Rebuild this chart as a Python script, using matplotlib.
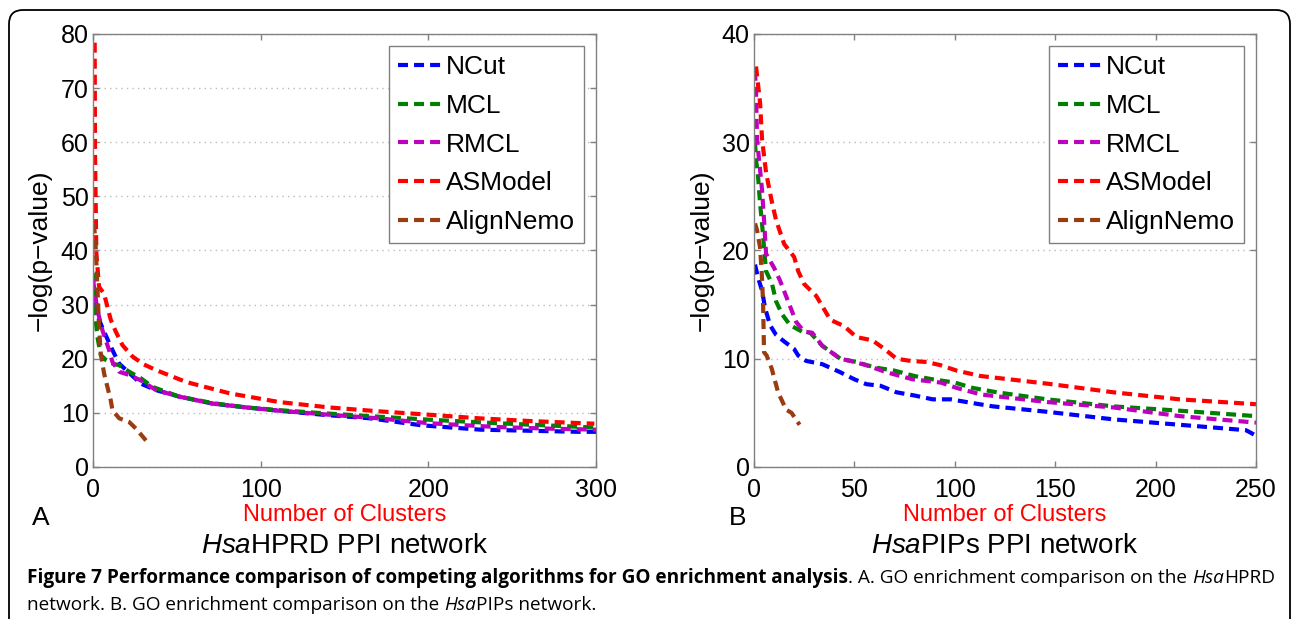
import matplotlib
matplotlib.use("Agg")
import matplotlib.pyplot as plt
import matplotlib.patches as mpatches
import numpy as np

# ---- data ----
methods = ['NCut', 'MCL', 'RMCL', 'ASModel', 'AlignNemo']
colors = ['#0000ff', '#008000', '#bf00bf', '#ff0000', '#9a3b10']

# panel A: HsaHPRD
hprd_ncut_x = [0, 3.6, 6.6, 11.6, 15.6, 28.5, 37.6, 51.5, 71.5, 91.5, 111, 139, 165, 196, 231, 260, 290, 300]
hprd_ncut_y = [33.3, 27.2, 25.0, 21.6, 19.1, 15.4, 14.2, 13.0, 11.7, 11.0, 10.4, 9.6, 9.0, 7.7, 6.9, 6.7, 6.5, 6.5]
hprd_mcl_x = [0, 0.6, 2.6, 4.6, 7.6, 11.6, 15.6, 21.6, 28.5, 35.5, 51.5, 71.5, 91.5, 111, 139, 170, 203, 240, 270, 299]
hprd_mcl_y = [35.8, 30.2, 24.1, 20.7, 19.8, 19.1, 18.8, 17.6, 16.4, 14.8, 13.0, 11.8, 11.0, 10.5, 9.9, 9.3, 8.7, 8.1, 7.7, 7.3]
hprd_rmcl_x = [0, 2.6, 5.6, 9.6, 11.6, 15.6, 21.6, 28.5, 37.6, 51.5, 71.5, 91.5, 111, 139, 170, 200, 240, 270, 300]
hprd_rmcl_y = [34.6, 29.0, 25.3, 21.6, 19.4, 17.6, 17.0, 16.0, 14.2, 13.0, 11.7, 11.0, 10.4, 9.7, 9.0, 8.1, 7.4, 7.1, 6.9]
hprd_asm_x = [1, 1.2, 2, 3.6, 6.6, 10.6, 13.6, 17.6, 23.6, 30, 37.6, 55.6, 81.6, 111, 141, 170, 203, 230, 260, 299]
hprd_asm_y = [78.4, 58, 39.5, 33.3, 32.0, 27.2, 25.0, 22.5, 20.4, 19.0, 17.9, 15.7, 13.6, 12.0, 11.0, 10.3, 9.6, 9.0, 8.5, 8.0]
hprd_nemo_x = [0.6, 1.6, 2.6, 3.6, 4.6, 6.6, 8.6, 10.6, 11.6, 15.6, 21.6, 25.6, 31.6]
hprd_nemo_y = [45.0, 40.7, 33.3, 25.9, 21.0, 17.3, 14.8, 12.3, 10.5, 9.0, 8.3, 7.1, 4.9]

# panel B: HsaPIPs
pips_ncut_x = [0.5, 2, 4, 5.5, 8, 11, 15, 20, 22, 26, 34, 43, 50, 56, 63, 71, 80, 89, 98, 109, 119, 146, 179, 212, 245, 250]
pips_ncut_y = [18.7, 17.5, 16.3, 14.7, 13.1, 12.2, 11.6, 10.9, 10.3, 9.8, 9.5, 8.75, 8.1, 7.65, 7.5, 6.9, 6.6, 6.25, 6.25, 5.9, 5.6, 5.1, 4.4, 3.9, 3.4, 2.9]
pips_mcl_x = [0.5, 1, 2, 3, 4, 5, 6, 9, 11, 14, 18, 24, 28, 34, 43, 51, 60, 70, 80, 89, 100, 109, 121, 146, 179, 212, 250]
pips_mcl_y = [30.0, 28.4, 26.9, 24.4, 22.5, 20.3, 18.1, 16.9, 15.3, 14.1, 13.1, 12.5, 12.4, 11.2, 10.0, 9.7, 9.2, 8.9, 8.4, 8.1, 7.8, 7.3, 6.9, 6.25, 5.6, 5.2, 4.7]
pips_rmcl_x = [0.5, 1, 1.5, 3, 4, 5, 6, 10, 13, 17, 21, 25, 29, 34, 43, 48, 56, 66, 79, 93, 101, 113, 146, 179, 212, 250]
pips_rmcl_y = [36.6, 34.7, 30.3, 27.5, 25.6, 22.8, 19.7, 18.4, 17.2, 15.3, 13.4, 12.5, 12.4, 11.2, 10.0, 9.8, 9.4, 8.75, 8.1, 7.8, 7.3, 6.7, 6.0, 5.5, 4.7, 4.1]
pips_asm_x = [1, 3, 4, 6, 9, 11, 15, 20, 22, 25, 31, 38, 45, 51, 59, 65, 71, 78, 86, 93, 101, 113, 146, 179, 212, 250]
pips_asm_y = [37.0, 33.7, 30.3, 27.2, 24.4, 22.8, 20.6, 19.4, 18.1, 16.9, 15.8, 13.6, 13.0, 12.0, 11.7, 10.9, 10.0, 9.8, 9.7, 9.4, 8.9, 8.4, 7.7, 6.9, 6.25, 5.8]
pips_nemo_x = [0.5, 1.5, 3, 3.8, 4.5, 5, 6.3, 8.8, 12, 16, 18.7, 22.7]
pips_nemo_y = [22.5, 21.9, 20.3, 18.1, 15.3, 10.6, 10.3, 9.1, 6.9, 5.3, 5.0, 3.9]

W, H = 1293, 619
plt.rcParams['font.family'] = ['Liberation Sans', 'DejaVu Sans']
plt.rcParams['mathtext.fontset'] = 'custom'
plt.rcParams['mathtext.it'] = 'Liberation Sans:italic'
plt.rcParams['mathtext.rm'] = 'Liberation Sans'

fig = plt.figure(figsize=(W / 100, H / 100), dpi=100)
fig.patch.set_facecolor('white')


def fx(px):
    return px / W


def fy(py):
    return 1 - py / H


ax1 = fig.add_axes([fx(93), fy(467), 503 / W, 433 / H])
ax2 = fig.add_axes([fx(754), fy(467), 502 / W, 433 / H])

panelA = [(hprd_ncut_x, hprd_ncut_y), (hprd_mcl_x, hprd_mcl_y), (hprd_rmcl_x, hprd_rmcl_y),
          (hprd_asm_x, hprd_asm_y), (hprd_nemo_x, hprd_nemo_y)]
panelB = [(pips_ncut_x, pips_ncut_y), (pips_mcl_x, pips_mcl_y), (pips_rmcl_x, pips_rmcl_y),
          (pips_asm_x, pips_asm_y), (pips_nemo_x, pips_nemo_y)]

gray = '#808080'
for ax, series, xmax, ymax, xstep, ystep in [(ax1, panelA, 300, 80, 100, 10),
                                            (ax2, panelB, 250, 40, 50, 10)]:
    for (xs, ys), name, c in zip(series, methods, colors):
        ax.plot(xs, ys, color=c, lw=3, linestyle=(0, (2.4, 1.45)), label=name)
    ax.set_xlim(0, xmax)
    ax.set_ylim(0, ymax)
    ax.set_xticks(np.arange(0, xmax + 1, xstep))
    ax.set_yticks(np.arange(0, ymax + 1, ystep))
    ax.yaxis.grid(True, linestyle=(0, (1, 3)), color='#bbbbbb', lw=1)
    for s in ax.spines.values():
        s.set_color(gray)
        s.set_linewidth(1)
    ax.tick_params(direction='in', length=4, width=1, color=gray, top=True, right=True,
                   labelsize=18)
    ax.tick_params(axis='x', pad=8)
    ax.tick_params(axis='y', pad=3)
    leg = ax.legend(loc='upper right', fontsize=19, fancybox=False, framealpha=1,
                    edgecolor=gray, handlelength=1.6, handletextpad=0.2,
                    labelspacing=0.56, borderpad=0.35, borderaxespad=0.45)
    leg.get_frame().set_linewidth(1)
    ax.text(-0.105, 0.5, '\u2212log(p\u2212value)', transform=ax.transAxes, rotation=90,
            ha='center', va='center', fontsize=19)

# panel letters and x labels
fig.text(fx(41), fy(518), 'A', fontsize=19, ha='center', va='center')
fig.text(fx(738), fy(518), 'B', fontsize=19, ha='center', va='center')
fig.text(fx(344.5), fy(521), 'Number of Clusters', color='red', fontsize=17,
         ha='center', va='baseline')
fig.text(fx(1005), fy(521), 'Number of Clusters', color='red', fontsize=17,
         ha='center', va='baseline')
fig.text(fx(344.5), fy(553), r'$\mathit{Hsa}$HPRD PPI network', fontsize=20,
         ha='center', va='baseline')
fig.text(fx(1005), fy(553), r'$\mathit{Hsa}$PIPs PPI network', fontsize=20,
         ha='center', va='baseline')

# outer rounded frame
frame = mpatches.FancyBboxPatch((9, -30), 1281, 609 + 30, boxstyle='round,pad=0,rounding_size=14',
                                transform=None, fill=False, edgecolor='black', lw=1.3)
fig.add_artist(frame)

# caption, built piece by piece so bold / italic runs sit side by side
renderer = fig.canvas.get_renderer()
cap_font = ['Open Sans', 'DejaVu Sans']


def piece_width(s, size, **kw):
    t = fig.text(0, 0, s, fontsize=size, family=cap_font, **kw)
    w = t.get_window_extent(renderer).width
    t.remove()
    return w


line1 = [('Figure 7 Performance comparison of competing algorithms for GO enrichment analysis', dict(weight='bold')),
         ('. A. GO enrichment comparison on the ', {}),
         ('Hsa', dict(style='italic')),
         ('HPRD', {})]
line2 = [('network. B. GO enrichment comparison on the ', {}),
         ('Hsa', dict(style='italic')),
         ('PIPs network.', {})]

base = 12
total = sum(piece_width(s, base, **kw) for s, kw in line1)
size = base * 1250 / total


def put_line(pieces, x0, ybase):
    x = x0
    for s, kw in pieces:
        fig.text(fx(x), fy(ybase), s, fontsize=size, family=cap_font, va='baseline', **kw)
        x += piece_width(s, size, **kw)


put_line(line1, 27, 583)
put_line(line2, 27, 610)

fig.savefig('out.png', dpi=100)
